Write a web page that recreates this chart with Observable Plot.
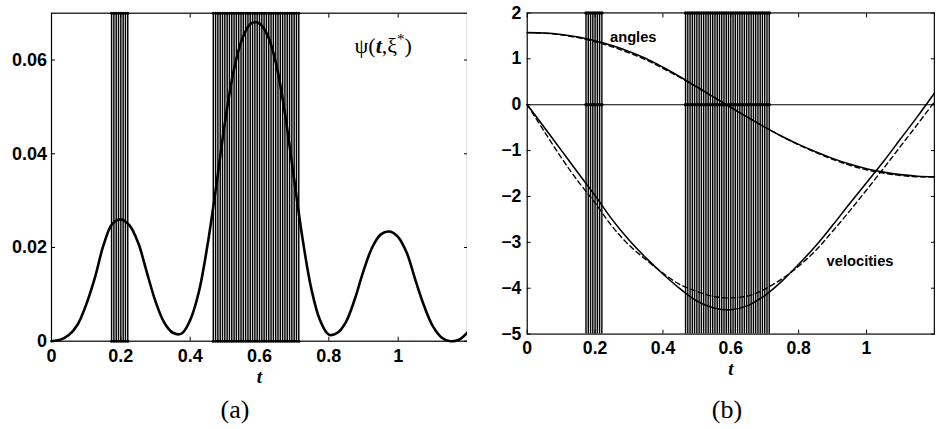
<!DOCTYPE html>
<html><head><meta charset="utf-8">
<script src="https://cdn.jsdelivr.net/npm/d3@7"></script>
<script src="https://cdn.jsdelivr.net/npm/@observablehq/plot@0.6"></script>
<style>
body{margin:0;background:#fff;}
#wrap{position:relative;width:937px;height:429px;overflow:hidden;background:#fff;}
#pa{position:absolute;left:0;top:0;}
#pb{position:absolute;left:467px;top:0;}
.cap{position:absolute;font-family:"Liberation Serif","DejaVu Serif",serif;font-size:26px;transform:translate(-50%,-50%);line-height:1;color:#000;}
</style></head>
<body><div id="wrap"><div id="pa"></div><div id="pb"></div>
<div class="cap" style="left:235px;top:410px">(a)</div>
<div class="cap" style="left:727px;top:410px">(b)</div></div>
<script>
// ---- data ----
const xTicks = [0, 0.2, 0.4, 0.6, 0.8, 1];
const yTicksA = [0, 0.02, 0.04, 0.06];
const yTicksB = [-5, -4, -3, -2, -1, 0, 1, 2];

const switchTimes = [0.1733,0.18,0.1867,0.1933,0.2,0.2067,0.2133,0.22,
  0.4667,0.4733,0.48,0.4867,0.4933,0.5,0.5067,0.5133,0.52,0.5267,0.5333,0.54,0.5467,0.5533,0.56,0.5667,
  0.5733,0.58,0.5867,0.5933,0.6,0.6067,0.6133,0.62,0.6267,0.6333,0.64,0.6467,0.6533,0.66,0.6667,0.6733,
  0.68,0.6867,0.6933,0.7,0.7067,0.7133];

const tPsi = [0,0.025,0.05,0.075,0.1,0.125,0.15,0.175,0.2,0.225,0.25,0.275,0.3,0.325,0.35,0.375,0.4,0.425,0.45,0.475,
  0.5,0.525,0.55,0.575,0.6,0.625,0.65,0.675,0.7,0.725,0.75,0.775,0.8,0.825,0.85,0.875,0.9,0.925,0.95,0.975,
  1.0,1.025,1.05,1.075,1.1,1.125,1.15,1.175,1.2];
const psi = [0,0.0003,0.0013,0.0035,0.0078,0.0135,0.0205,0.0250,0.0260,0.0247,0.0210,0.0147,0.0085,0.0040,0.0018,0.0016,
  0.0045,0.0105,0.0205,0.0330,0.0465,0.0575,0.0645,0.0678,0.0678,0.0650,0.0585,0.0478,0.0345,0.0215,0.0110,0.0044,
  0.0014,0.0018,0.0042,0.0090,0.0150,0.0200,0.0228,0.0234,0.0222,0.0188,0.0130,0.0075,0.0032,0.0008,0.0000,0.0003,0.0019];

const tB = [0,0.05,0.1,0.15,0.2,0.25,0.3,0.35,0.4,0.45,0.5,0.55,0.6,0.65,0.7,0.75,0.8,0.85,0.9,0.95,1.0,1.05,1.1,1.15,1.2];
const anglesSolid = [1.571,1.562,1.530,1.475,1.395,1.290,1.160,1.005,0.815,0.610,0.390,0.165,-0.058,-0.278,-0.490,-0.688,
  -0.865,-1.025,-1.170,-1.295,-1.395,-1.470,-1.525,-1.558,-1.571];
const anglesDashed = [1.571,1.560,1.522,1.460,1.372,1.262,1.130,0.978,0.792,0.592,0.378,0.160,-0.058,-0.275,-0.487,-0.690,
  -0.875,-1.040,-1.190,-1.318,-1.418,-1.492,-1.543,-1.570,-1.575];
const velSolid = [0,-0.49,-0.99,-1.49,-1.98,-2.50,-2.95,-3.34,-3.69,-4.01,-4.28,-4.43,-4.47,-4.38,-4.16,-3.85,
  -3.48,-3.08,-2.63,-2.16,-1.70,-1.24,-0.75,-0.26,0.25];
const velDashed = [0,-0.58,-1.15,-1.67,-2.14,-2.65,-3.06,-3.38,-3.67,-3.92,-4.07,-4.18,-4.21,-4.17,-4.02,-3.80,
  -3.52,-3.18,-2.76,-2.32,-1.86,-1.39,-0.91,-0.43,0.06];

const psiLabel = [{t: 0.957, v: 0.0631, s: "ψ(t,ξ*)"}];
const curveLabels = [{t: 0.3125, v: 1.46, s: "angles"}, {t: 0.981, v: -3.414, s: "velocities"}];

// ---- plots ----
const style = {fontFamily: "'Liberation Sans', Arial, sans-serif", fontSize: "18px", fontWeight: "bold",
  background: "white", color: "black", overflow: "visible"};
const fmt = d => d < 0 ? "\u2212" + Math.abs(d) : String(d);

const psiData = tPsi.map((t, i) => ({t, v: psi[i]}));
const mk = (arr) => tB.map((t, i) => ({t, v: arr[i]}));

function frameAxes(yTicks, padY) {
  return [
    Plot.frame({stroke: "black", strokeWidth: 1.2}),
    Plot.axisX(xTicks, {anchor: "bottom", tickSize: -4, tickPadding: 11.8, tickFormat: fmt, label: null}),
    Plot.axisX(xTicks, {anchor: "top", tickSize: -4, tickFormat: () => "", label: null}),
    Plot.axisY(yTicks, {anchor: "left", tickSize: -4, tickPadding: padY, tickFormat: fmt, label: null}),
    Plot.axisY(yTicks, {anchor: "right", tickSize: -4, tickFormat: () => "", label: null}),
    Plot.text(["t"], {text: d => d, frameAnchor: "bottom", lineAnchor: "middle", dy: 35.5, fontFamily: "'Liberation Serif', serif",
      fontStyle: "italic", fontWeight: "bold", fontSize: 19})
  ];
}

const bandW = 1.45;

const left = Plot.plot({
  width: 470, height: 380, marginLeft: 51, marginRight: 3, marginTop: 12.7, marginBottom: 39.3,
  style,
  x: {domain: [0, 1.2]}, y: {domain: [0, 0.07]},
  marks: [
    Plot.ruleX(switchTimes, {x: d => d, stroke: "black", strokeWidth: bandW}),
    Plot.dot(switchTimes, {x: d => d, frameAnchor: "top", r: 1.5, fill: "black", stroke: null}),
    Plot.dot(switchTimes, {x: d => d, frameAnchor: "bottom", r: 1.5, fill: "black", stroke: null}),
    Plot.line(psiData, {x: "t", y: "v", curve: "catmull-rom", stroke: "black", strokeWidth: 2.6}),
    Plot.text(psiLabel, {x: "t", y: "v", text: "s", fontFamily: "'Liberation Serif', serif", fontWeight: "normal", fontSize: 22}),
    ...frameAxes(yTicksA, 8.5)
  ]
});

const right = Plot.plot({
  width: 480, height: 380, marginLeft: 61, marginRight: 3.2, marginTop: 12.7, marginBottom: 39.3,
  style,
  x: {domain: [0, 1.2]}, y: {domain: [-5, 2]},
  marks: [
    Plot.ruleX(switchTimes, {x: d => d, stroke: "black", strokeWidth: bandW}),
    Plot.ruleY([0], {stroke: "black", strokeWidth: 1.1}),
    Plot.dot(switchTimes, {x: d => d, frameAnchor: "top", r: 1.8, fill: "black", stroke: null}),
    Plot.dot(switchTimes, {x: d => d, y: () => 0, r: 1.8, fill: "black", stroke: null}),
    Plot.line(mk(anglesDashed), {x: "t", y: "v", curve: "catmull-rom", stroke: "black", strokeWidth: 1.4, strokeDasharray: "5,3.5"}),
    Plot.line(mk(velDashed), {x: "t", y: "v", curve: "catmull-rom", stroke: "black", strokeWidth: 1.4, strokeDasharray: "5,3.5"}),
    Plot.line(mk(anglesSolid), {x: "t", y: "v", curve: "catmull-rom", stroke: "black", strokeWidth: 1.6}),
    Plot.line(mk(velSolid), {x: "t", y: "v", curve: "catmull-rom", stroke: "black", strokeWidth: 1.6}),
    Plot.text(curveLabels, {x: "t", y: "v", text: "s", fontSize: 15, fontWeight: "bold"}),
    ...frameAxes(yTicksB, 10)
  ]
});

document.getElementById("pa").appendChild(left);
document.getElementById("pb").appendChild(right);

// rich formatting of the ψ label
left.querySelectorAll("text").forEach(el => {
  if (el.textContent === "ψ(t,ξ*)") {
    const ns = "http://www.w3.org/2000/svg";
    while (el.firstChild) el.removeChild(el.firstChild);
    const parts = [["ψ(", {}], ["t", {"font-style": "italic", "font-weight": "bold"}], [",ξ", {}],
      ["*", {"font-size": "15", "dy": "-9"}], [")", {"dy": "9"}]];
    for (const [txt, attrs] of parts) {
      const ts = document.createElementNS(ns, "tspan");
      for (const k in attrs) ts.setAttribute(k, attrs[k]);
      ts.textContent = txt;
      el.appendChild(ts);
    }
  }
});
</script>
</body></html>
